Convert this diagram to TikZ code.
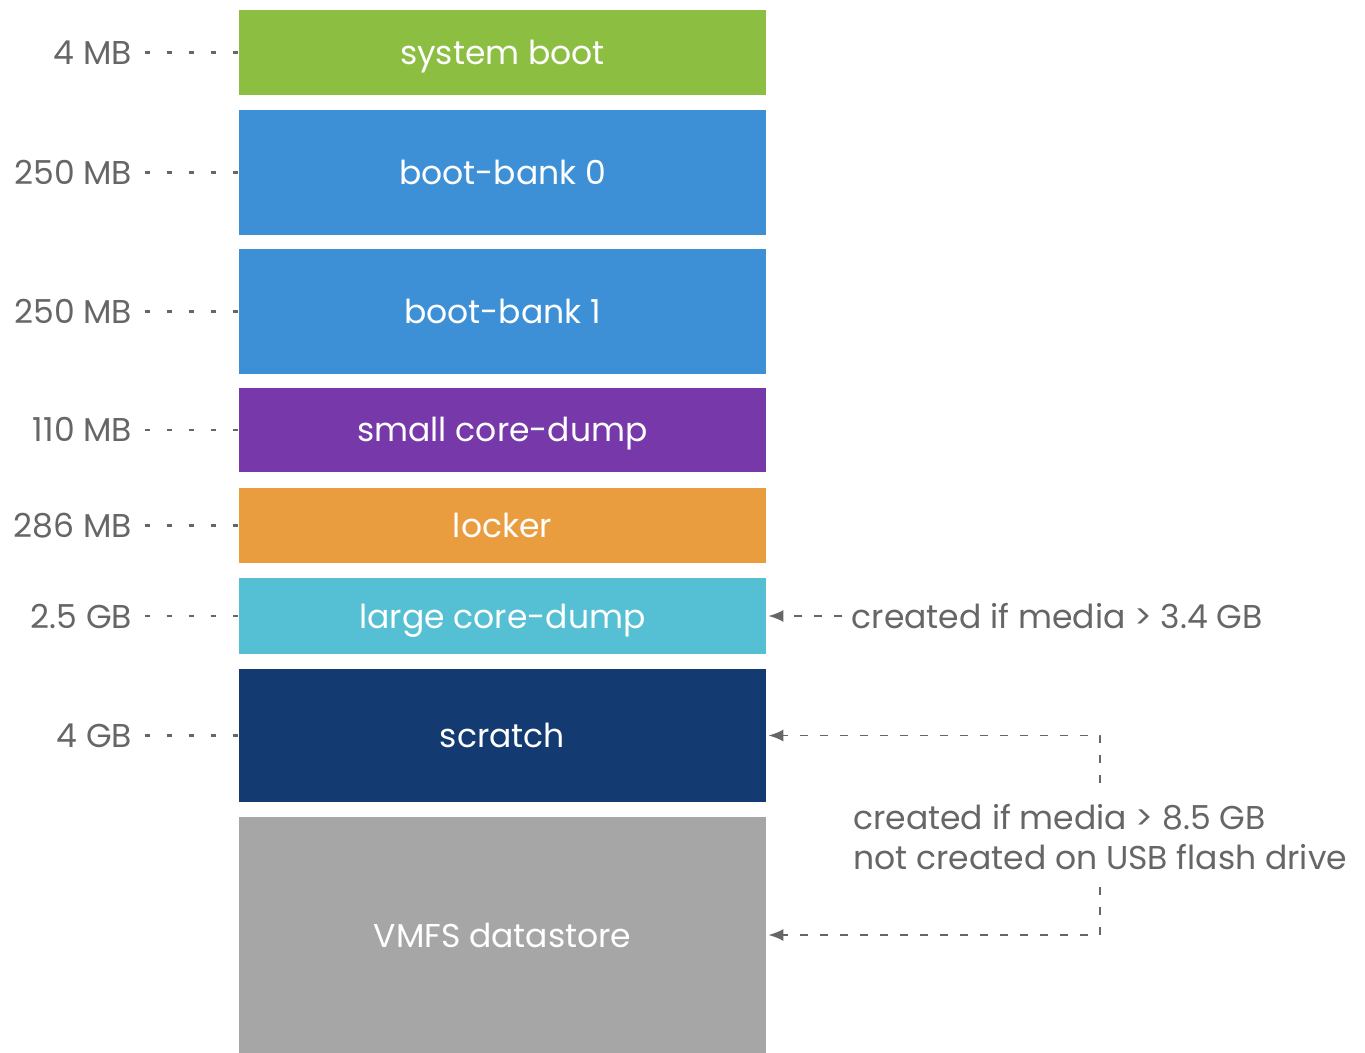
\documentclass[tikz,border=0pt]{standalone}
\usepackage{fontspec}
\setsansfont{Poppins}
\usetikzlibrary{positioning, arrows.meta}
\definecolor{bootgreen}{HTML}{8BBE41}
\definecolor{bankblue}{HTML}{3D8FD6}
\definecolor{dumppurple}{HTML}{7739A9}
\definecolor{lockorange}{HTML}{EA9D3E}
\definecolor{dumpcyan}{HTML}{55BFD3}
\definecolor{scratchnavy}{HTML}{143B71}
\definecolor{vmfsgray}{HTML}{A6A6A6}
\definecolor{labelgray}{HTML}{666666}

\begin{document}
\begin{tikzpicture}[
  x=0.5pt, y=-0.5pt,
  font=\sffamily\fontsize{16.5}{20}\selectfont,
  part/.style={minimum width=263.5pt, inner sep=0pt, text=white,
    text height=12pt, text depth=0pt},
  size/.style={text=labelgray, inner ysep=0pt, inner xsep=6pt,
    text height=12pt, text depth=0pt},
  lead/.style={labelgray, line width=1.4pt, dash pattern=on 2.5pt off 8.5pt},
  notetext/.style={text=labelgray, inner sep=2.5pt, align=left},
  note/.style={-{Latex[length=7.5pt, width=6pt]}, labelgray, line width=0.9pt,
    dash pattern=on 4pt off 6pt, shorten >=1pt},
]
  \useasboundingbox (0,0) rectangle (1365,1053);

  % Partitions, top to bottom
  \foreach \n/\y/\h/\c/\t in {
      sysboot/52.5/85/bootgreen/system boot,
      bank0/172.5/125/bankblue/boot-bank 0,
      bank1/311.5/125/bankblue/boot-bank 1,
      coresm/430/84/dumppurple/small core-dump,
      locker/525.5/75/lockorange/locker,
      corelg/616/76/dumpcyan/large core-dump,
      scratch/735.5/133/scratchnavy/scratch,
      vmfs/935/236/vmfsgray/VMFS datastore}
    \node[part, fill=\c, minimum height=\h*0.5pt] (\n) at (502.5, \y) {\t};

  % Sizes with dotted leaders
  \foreach \n/\s in {sysboot/4 MB, bank0/250 MB, bank1/250 MB, coresm/110 MB,
      locker/286 MB, corelg/2.5 GB, scratch/4 GB} {
    \node[size, left=47pt of \n.west] (l\n) {\s};
    \draw[lead] (l\n.east) -- (\n.west);
  }

  % Notes
  \node[notetext, inner xsep=4.5pt, text height=12pt, text depth=0pt,
    right=38pt of corelg.east] (note1) {created if media > 3.4 GB};
  \draw[note] (note1) -- (corelg);

  \node[notetext, anchor=west] (note2) at (848, 837)
    {created if media > 8.5 GB\\not created on USB flash drive};
  \coordinate (bendtop) at (1100, 783);
  \coordinate (bendbot) at (1100, 887);
  \draw[note] (bendtop) |- (scratch.east);
  \draw[note] (bendbot) |- (vmfs.east);
\end{tikzpicture}
\end{document}
